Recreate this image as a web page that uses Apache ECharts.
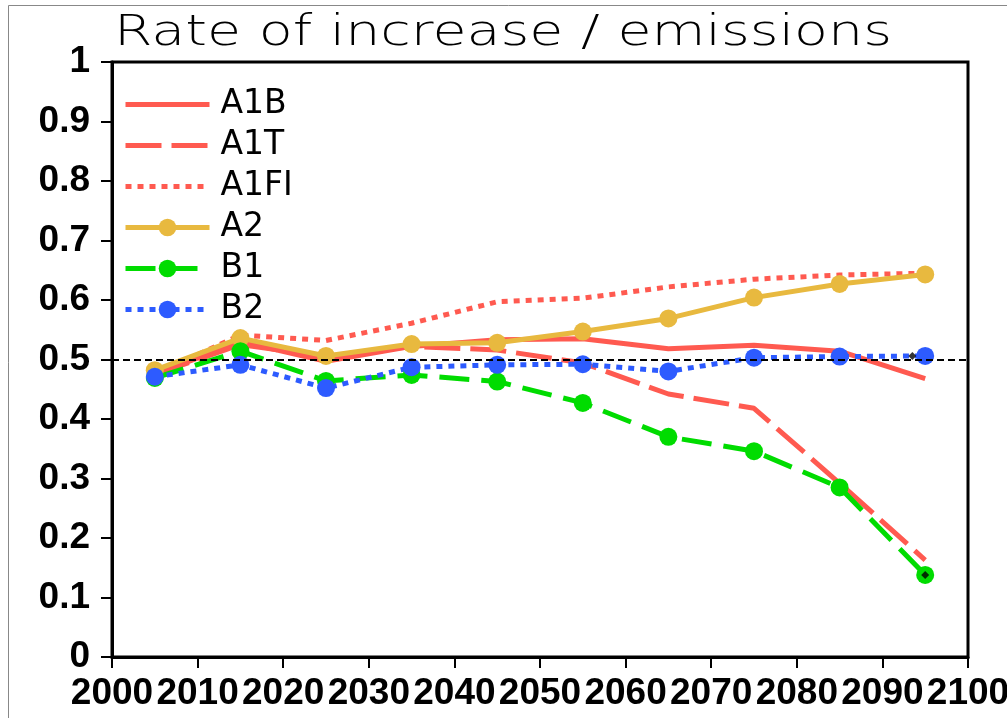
<!DOCTYPE html>
<html>
<head>
<meta charset="utf-8">
<script src="https://cdn.jsdelivr.net/npm/echarts@6/dist/echarts.min.js"></script>
<style>
html,body{margin:0;padding:0;background:#fff;}
#chart{width:1007px;height:718px;}
</style>
</head>
<body>
<div id="chart"></div>
<script>
const years = [2005, 2015, 2025, 2035, 2045, 2055, 2065, 2075, 2085, 2095];
const A1B  = [0.475, 0.530, 0.497, 0.522, 0.533, 0.535, 0.518, 0.524, 0.514, 0.468];
const A1T  = [0.475, 0.525, 0.505, 0.522, 0.516, 0.494, 0.442, 0.418, 0.292, 0.163];
const A1FI = [0.475, 0.541, 0.532, 0.561, 0.597, 0.603, 0.622, 0.635, 0.642, 0.645];
const A2   = [0.482, 0.536, 0.506, 0.526, 0.528, 0.547, 0.569, 0.604, 0.627, 0.643];
const B1   = [0.469, 0.514, 0.464, 0.474, 0.463, 0.427, 0.370, 0.346, 0.285, 0.138];
const B2   = [0.471, 0.491, 0.452, 0.487, 0.491, 0.492, 0.480, 0.503, 0.505, 0.506];
const blackMarks = [[2095, 0.138], [2093.5, 0.506]];
const refLine = 0.5;
const xTicks = [2000, 2100, 10];
const yTicks = [0, 1, 0.1];
const titleText = 'Rate of increase / emissions';

const RED = '#FF5A50', GOLD = '#E8B93F', GREEN = '#00DC00', BLUE = '#2D5BFF';
const pairs = arr => years.map((y, i) => [y, arr[i]]);

const DASH_LONG = [36, 10], DASH_MED = [30, 12], DOT = [6, 6];

const chart = echarts.init(document.getElementById('chart'));
chart.setOption({
  animation: false,
  backgroundColor: '#fff',
  graphic: [
    { type: 'rect', shape: { x: 8.5, y: 5.5, width: 1200, height: 900 },
      style: { fill: 'none', stroke: '#888', lineWidth: 1 }, z: 0 },
    { type: 'text', left: 114, top: 13, scaleX: 1.32, originX: 114,
      style: { text: titleText, font: '200 42px "DejaVu Sans"', fill: '#000' } }
  ],
  grid: { left: 112, right: 39, top: 62, bottom: 61, show: true, borderColor: '#000', borderWidth: 3,
          outerBoundsMode: 'none', containLabel: false },
  legend: {
    orient: 'vertical', left: 118, top: 83,
    data: [
      { name: 'A1B', itemStyle: { opacity: 0 }, lineStyle: { width: 5, type: 'solid' } },
      { name: 'A1T', itemStyle: { opacity: 0 }, lineStyle: { width: 5, type: DASH_LONG } },
      { name: 'A1FI', itemStyle: { opacity: 0 }, lineStyle: { width: 5, type: DOT } },
      { name: 'A2', lineStyle: { width: 5, type: 'solid' } },
      { name: 'B1', lineStyle: { width: 5, type: DASH_MED } },
      { name: 'B2', lineStyle: { width: 5, type: DOT } }
    ],
    itemWidth: 84, itemHeight: 22, itemGap: 8,
    textStyle: { fontFamily: 'DejaVu Sans', fontSize: 33, color: '#000', lineHeight: 32, padding: [0, 0, 0, 6] }
  },
  xAxis: {
    type: 'value', min: xTicks[0], max: xTicks[1], interval: xTicks[2],
    axisLine: { show: true, lineStyle: { color: '#000', width: 3 } },
    axisTick: { show: true, inside: false, length: 11, lineStyle: { color: '#000', width: 2 } },
    axisLabel: { fontFamily: 'Liberation Sans', fontWeight: 'bold', fontSize: 37, color: '#000', margin: 18,
                 showMaxLabel: true, showMinLabel: true, hideOverlap: false,
                 formatter: v => String(v) },
    splitLine: { show: false }
  },
  yAxis: {
    type: 'value', min: yTicks[0], max: yTicks[1], interval: yTicks[2],
    axisLine: { show: true, lineStyle: { color: '#000', width: 3 } },
    axisTick: { show: true, inside: false, length: 11, lineStyle: { color: '#000', width: 2 } },
    axisLabel: { fontFamily: 'Liberation Sans', fontWeight: 'bold', fontSize: 37, color: '#000', margin: 22 },
    splitLine: { show: false }
  },
  series: [
    { name: 'refline', type: 'line', data: [], z: 10, silent: true,
      markLine: { silent: true, symbol: 'none', label: { show: false },
        lineStyle: { color: '#000', type: [7, 4], width: 2 }, data: [{ yAxis: refLine }] } },
    { name: 'A1B', type: 'line', data: pairs(A1B), symbol: 'none', color: RED,
      lineStyle: { color: RED, width: 5 } },
    { name: 'A1T', type: 'line', data: pairs(A1T), symbol: 'none', color: RED,
      lineStyle: { color: RED, width: 5, type: DASH_LONG } },
    { name: 'A1FI', type: 'line', data: pairs(A1FI), symbol: 'none', color: RED,
      lineStyle: { color: RED, width: 5, type: DOT } },
    { name: 'A2', type: 'line', data: pairs(A2), symbol: 'circle', symbolSize: 18, color: GOLD,
      itemStyle: { color: GOLD }, lineStyle: { color: GOLD, width: 5 } },
    { name: 'B1', type: 'line', data: pairs(B1), symbol: 'circle', symbolSize: 18, color: GREEN,
      itemStyle: { color: GREEN }, lineStyle: { color: GREEN, width: 5, type: DASH_MED } },
    { name: 'B2', type: 'line', data: pairs(B2), symbol: 'circle', symbolSize: 18, color: BLUE,
      itemStyle: { color: BLUE }, lineStyle: { color: BLUE, width: 5, type: DOT } },
    { name: 'marks', type: 'scatter', data: blackMarks, symbol: 'diamond', symbolSize: 8,
      itemStyle: { color: '#000' }, z: 11, silent: true }
  ]
});
</script>
</body>
</html>
